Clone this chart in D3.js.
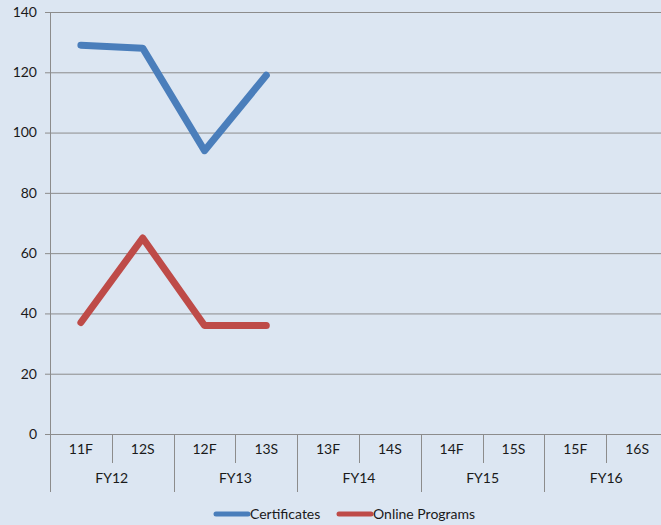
<!DOCTYPE html>
<html>
<head>
<meta charset="utf-8">
<script src="https://cdn.jsdelivr.net/npm/d3@7"></script>
<style>
  body { margin: 0; background: #dce6f2; overflow: hidden; }
  text { font-family: Lato, "Open Sans", sans-serif; font-size: 14px; fill: #1a1a1a; }
</style>
</head>
<body>
<script>
const width = 661;
const height = 525;

const terms = ["11F", "12S", "12F", "13S", "13F", "14S", "14F", "15S", "15F", "16S"];
const fiscalYears = ["FY12", "FY13", "FY14", "FY15", "FY16"];
const certificates = [129, 128, 94, 119];
const onlinePrograms = [37, 65, 36, 36];
const yTicks = [0, 20, 40, 60, 80, 100, 120, 140];

// plot runs a little past the right edge, as in the original
const margin = { top: 12, right: -7, bottom: 91, left: 50 };

const svg = d3.select("body")
  .append("svg")
  .attr("width", width)
  .attr("height", height);

svg.append("rect")
  .attr("width", width)
  .attr("height", height)
  .attr("fill", "#dce6f2");

const x = d3.scaleBand()
  .domain(terms)
  .range([margin.left, width - margin.right]);

const y = d3.scaleLinear()
  .domain([0, 140])
  .range([height - margin.bottom, margin.top]);

// gridlines
svg.append("g")
  .selectAll("line")
  .data(yTicks)
  .enter()
  .append("line")
  .attr("x1", margin.left - 5)
  .attr("x2", width)
  .attr("y1", (d) => y(d) + 0.5)
  .attr("y2", (d) => y(d) + 0.5)
  .attr("stroke", "#8c8c8c")
  .attr("stroke-width", 1);

// y axis labels
svg.append("g")
  .selectAll("text")
  .data(yTicks)
  .enter()
  .append("text")
  .attr("x", margin.left - 13)
  .attr("y", (d) => y(d))
  .attr("dy", "0.35em")
  .attr("text-anchor", "end")
  .text((d) => d);

// y axis line
svg.append("line")
  .attr("x1", margin.left + 0.5)
  .attr("x2", margin.left + 0.5)
  .attr("y1", margin.top)
  .attr("y2", y(0) + 58)
  .attr("stroke", "#8c8c8c");

// category separators
const y0 = y(0);
svg.append("g")
  .selectAll("line")
  .data(terms.slice(1))
  .enter()
  .append("line")
  .attr("x1", (d) => Math.round(x(d)) + 0.5)
  .attr("x2", (d) => Math.round(x(d)) + 0.5)
  .attr("y1", y0)
  .attr("y2", (d, i) => (i % 2 === 0 ? y0 + 29 : y0 + 58))
  .attr("stroke", "#8c8c8c");

// term labels
svg.append("g")
  .selectAll("text")
  .data(terms)
  .enter()
  .append("text")
  .attr("x", (d) => x(d) + x.bandwidth() / 2)
  .attr("y", y0 + 20)
  .attr("text-anchor", "middle")
  .text((d) => d);

// fiscal year labels
svg.append("g")
  .selectAll("text")
  .data(fiscalYears)
  .enter()
  .append("text")
  .attr("x", (d, i) => x(terms[i * 2]) + x.bandwidth())
  .attr("y", y0 + 49)
  .attr("text-anchor", "middle")
  .text((d) => d);

const line = d3.line()
  .x((d, i) => x(terms[i]) + x.bandwidth() / 2)
  .y((d) => y(d));

const series = [
  { name: "Certificates", values: certificates, color: "#4a7ebb" },
  { name: "Online Programs", values: onlinePrograms, color: "#be4b48" }
];

series.forEach((s) => {
  svg.append("path")
    .datum(s.values)
    .attr("d", line)
    .attr("fill", "none")
    .attr("stroke", s.color)
    .attr("stroke-width", 7)
    .attr("stroke-linejoin", "round")
    .attr("stroke-linecap", "round");
});

// legend
const legend = svg.append("g");
const legendItems = [
  { x: 216, label: "Certificates", color: "#4a7ebb" },
  { x: 339, label: "Online Programs", color: "#be4b48" }
];
legendItems.forEach((item) => {
  legend.append("line")
    .attr("x1", item.x)
    .attr("x2", item.x + 32)
    .attr("y1", 514)
    .attr("y2", 514)
    .attr("stroke", item.color)
    .attr("stroke-width", 5)
    .attr("stroke-linecap", "round");
  legend.append("text")
    .attr("x", item.x + 34)
    .attr("y", 514)
    .attr("dy", "0.35em")
    .text(item.label);
});
</script>
</body>
</html>
